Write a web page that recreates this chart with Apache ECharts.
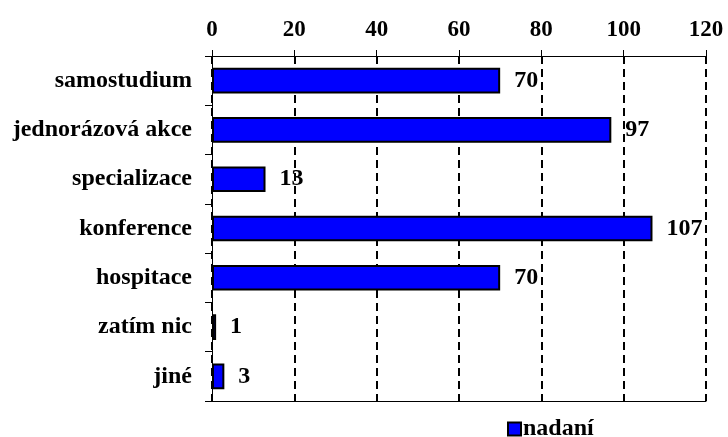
<!DOCTYPE html>
<html>
<head>
<meta charset="utf-8">
<script src="https://cdn.jsdelivr.net/npm/echarts@6/dist/echarts.min.js"></script>
<style>
  html, body { margin: 0; padding: 0; background: #fff; }
  #chart { width: 728px; height: 437px; }
</style>
</head>
<body>
<div id="chart"></div>
<script>
// Forms of further education, counts per category
const categories = ['samostudium', 'jednorázová akce', 'specializace', 'konference', 'hospitace', 'zatím nic', 'jiné'];
const values = [70, 97, 13, 107, 70, 1, 3];
const seriesName = 'nadaní';
const axisMin = 0;
const axisMax = 120;
const axisStep = 20;

const FONT = '"Liberation Serif", "Times New Roman", serif';

const chart = echarts.init(document.getElementById('chart'));
chart.setOption({
  animation: false,
  backgroundColor: '#ffffff',
  grid: { left: 212, right: 22, top: 56, bottom: 36, containLabel: false },
  legend: {
    data: [seriesName],
    left: 502,
    top: 412,
    itemWidth: 13,
    itemHeight: 13,
    itemGap: 4,
    icon: 'rect',
    textStyle: { fontFamily: FONT, fontWeight: 'bold', fontSize: 24, color: '#000', padding: [0, 0, 0, -3] }
  },
  xAxis: [
    {
      type: 'value',
      position: 'top',
      min: axisMin,
      max: axisMax,
      interval: axisStep,
      axisLine: { show: true, lineStyle: { color: '#000', width: 1 } },
      axisTick: { show: true, inside: false, length: 6, lineStyle: { color: '#000', width: 1 } },
      axisLabel: { margin: 14, fontFamily: FONT, fontWeight: 'bold', fontSize: 23, color: '#000' },
      splitLine: { show: true, lineStyle: { color: '#000', width: 2, type: [8, 5] } }
    },
    {
      // plain baseline closing the plot at the bottom
      type: 'value',
      position: 'bottom',
      min: axisMin,
      max: axisMax,
      interval: axisStep,
      axisLine: { show: true, lineStyle: { color: '#000', width: 1 } },
      axisTick: { show: false },
      axisLabel: { show: false },
      splitLine: { show: false }
    }
  ],
  yAxis: {
    type: 'category',
    data: categories,
    inverse: true,
    axisLine: { show: true, lineStyle: { color: '#000', width: 1 } },
    axisTick: { show: true, length: 7, lineStyle: { color: '#000', width: 1 } },
    axisLabel: { margin: 20, fontFamily: FONT, fontWeight: 'bold', fontSize: 24, color: '#000' }
  },
  series: [{
    name: seriesName,
    type: 'bar',
    xAxisIndex: 0,
    data: values,
    barWidth: '52%',
    itemStyle: { color: '#0000ff', borderColor: '#000', borderWidth: 2 },
    label: {
      show: true,
      position: 'right',
      distance: 14,
      fontFamily: FONT,
      fontWeight: 'bold',
      fontSize: 24,
      color: '#000'
    }
  }]
});
</script>
</body>
</html>
